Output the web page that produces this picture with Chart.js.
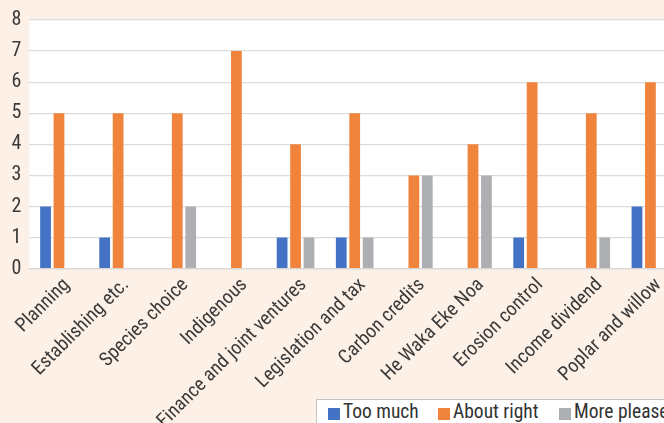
<!DOCTYPE html>
<html>
<head>
<meta charset="utf-8">
<script src="https://cdn.jsdelivr.net/npm/chart.js@4/dist/chart.umd.min.js"></script>
<style>
  html, body { margin: 0; padding: 0; overflow: hidden; background: #fdf0e7; }
  #wrap { position: relative; width: 664px; height: 423px; overflow: hidden; }
  canvas { position: absolute; left: 0; top: 0; }
  #legend {
    position: absolute; left: 316px; top: 399px; width: 400px; height: 40px;
    background: #ffffff; border: 1px solid #c4c4c4; box-sizing: border-box;
    font-family: 'Roboto Condensed', 'Liberation Sans Narrow', Roboto, sans-serif;
    font-size: 19.5px; color: #333333;
  }
  .item { position: absolute; top: 8px; height: 12px; white-space: nowrap; }
  .sw { position: absolute; left: 0; top: 0; width: 12px; height: 12px; }
  .tx { position: absolute; left: 15px; top: -6px; line-height: 20px; }
</style>
</head>
<body>
<div id="wrap">
  <canvas id="c" width="680" height="423"></canvas>
  <div id="legend"></div>
</div>
<script>
const categories = [
  'Planning', 'Establishing etc.', 'Species choice', 'Indigenous',
  'Finance and joint ventures', 'Legislation and tax', 'Carbon credits',
  'He Waka Eke Noa', 'Erosion control', 'Income dividend', 'Poplar and willow'
];
const seriesNames = ['Too much', 'About right', 'More please'];
const tooMuch    = [2, 1, 0, 0, 1, 1, 0, 0, 1, 0, 2];
const aboutRight = [5, 5, 5, 7, 4, 5, 3, 4, 6, 5, 6];
const morePlease = [0, 0, 2, 0, 1, 1, 3, 3, 0, 1, 0];
const yTicks = [0, 1, 2, 3, 4, 5, 6, 7, 8];

const colors = ['#4472C4', '#F0843C', '#AEAFB2'];
const FONT = "'Roboto Condensed', 'Liberation Sans Narrow', Roboto, sans-serif";

// white plot area on the tinted page
const plotBackground = {
  id: 'plotBackground',
  beforeDraw(chart) {
    const { ctx, chartArea: a } = chart;
    ctx.save();
    ctx.fillStyle = '#ffffff';
    ctx.fillRect(a.left, a.top, a.right - a.left, a.bottom - a.top);
    ctx.restore();
  }
};

const values = [tooMuch, aboutRight, morePlease];
const chart = new Chart(document.getElementById('c'), {
  type: 'bar',
  data: {
    labels: categories,
    datasets: seriesNames.map((name, i) => ({
      label: name,
      data: values[i],
      backgroundColor: colors[i],
      borderWidth: 0,
      categoryPercentage: 0.682,
      barPercentage: 0.80
    }))
  },
  options: {
    responsive: false,
    animation: false,
    devicePixelRatio: 1,
    layout: { padding: { top: 20, left: 0, right: 0, bottom: 0 } },
    plugins: { legend: { display: false }, tooltip: { enabled: false } },
    scales: {
      x: {
        grid: { display: false, drawTicks: false },
        border: { display: true, color: '#d6d6d6', width: 1.2 },
        ticks: {
          color: '#3a3a3a',
          font: { family: FONT, size: 19.5 },
          minRotation: 45, maxRotation: 45,
          autoSkip: false,
          padding: 5,
          labelOffset: 8
        },
        afterFit(scale) { scale.height = 423 - 268.7; }
      },
      y: {
        min: 0, max: 8,
        afterBuildTicks(scale) { scale.ticks = yTicks.map(v => ({ value: v })); },
        grid: { color: '#dcdcdc', lineWidth: 1.2, drawTicks: false },
        border: { display: false },
        ticks: {
          color: '#3a3a3a',
          font: { family: FONT, size: 20 },
          padding: 8
        },
        afterFit(scale) { scale.width = 29.4; }
      }
    }
  },
  plugins: [plotBackground]
});

// legend built from the chart's datasets
const legend = document.getElementById('legend');
const offsets = [11, 121, 242];
chart.data.datasets.forEach((ds, i) => {
  const el = document.createElement('div');
  el.className = 'item';
  el.style.left = offsets[i] + 'px';
  const sw = document.createElement('span');
  sw.className = 'sw';
  sw.style.background = ds.backgroundColor;
  const tx = document.createElement('span');
  tx.className = 'tx';
  tx.textContent = ds.label;
  el.appendChild(sw);
  el.appendChild(tx);
  legend.appendChild(el);
});
</script>
</body>
</html>
